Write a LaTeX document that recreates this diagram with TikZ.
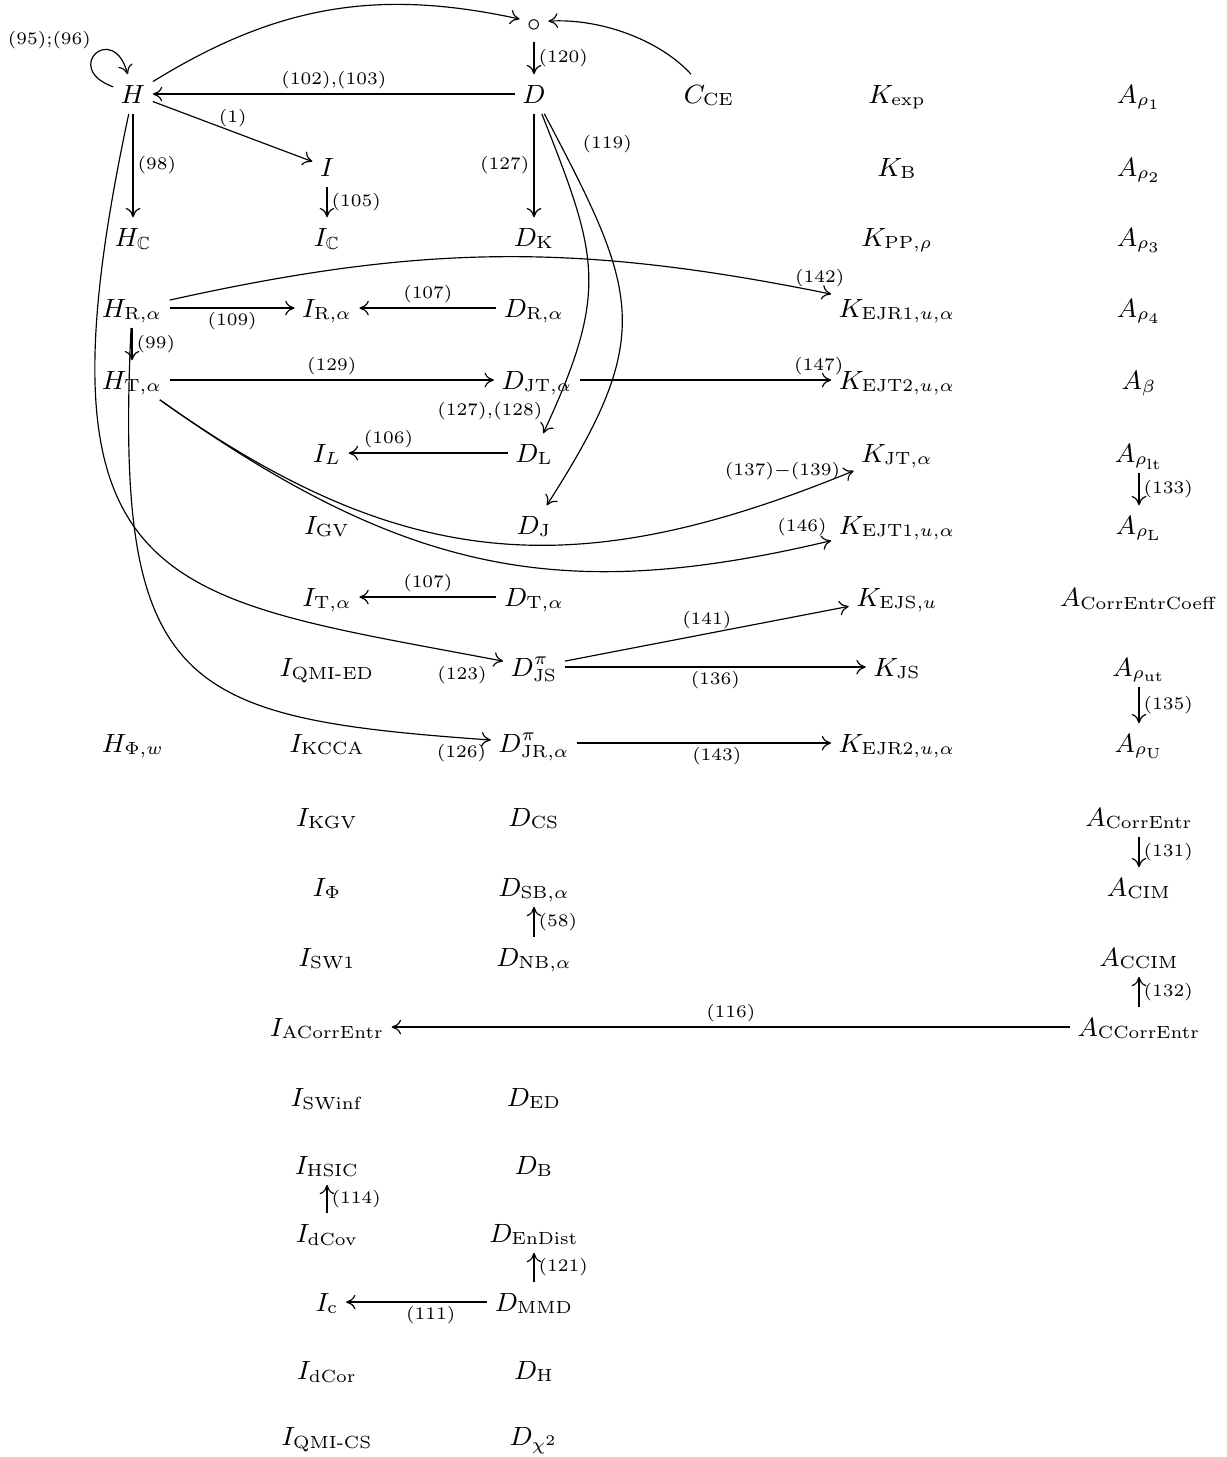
\documentclass[tikz,border=0pt]{standalone}
\usepackage{amsmath,amssymb}
\usetikzlibrary{arrows.meta}
\tikzset{
  ent/.style={anchor=base, inner sep=2.4pt, text height=7.2pt, text depth=1.1pt,
    font=\fontsize{9}{11}\selectfont},
  lbl/.style={font=\fontsize{6.3}{7.5}\selectfont, inner sep=1.4pt},
}
\begin{document}
\begin{tikzpicture}[x=0.012cm, y=0.012cm, >={Computer Modern Rightarrow[length=3.2pt,width=5pt]}]
    \useasboundingbox (0,0) rectangle (1226,-1457);

    % Top
    \node[ent] (circ) at (534,-31) {$\circ$};

    % Rows 1--5
    \node[ent] (H) at (133,-103) {$H$};
    \node[ent] (D) at (534,-103) {$D$};
    \node[ent] (Cce) at (709,-103) {$C_{\mathrm{CE}}$};
    \node[ent] (Kexp) at (897,-103) {$K_{\mathrm{exp}}$};
    \node[ent] (Ar1) at (1139,-103) {$A_{\rho_1}$};
    \node[ent] (I) at (327,-176) {$I$};
    \node[ent] (KB) at (897,-176) {$K_{\mathrm{B}}$};
    \node[ent] (Ar2) at (1139,-176) {$A_{\rho_2}$};
    \node[ent] (HC) at (133,-246) {$H_{\mathbb{C}}$};
    \node[ent] (IC) at (327,-246) {$I_{\mathbb{C}}$};
    \node[ent] (DK) at (534,-246) {$D_{\mathrm{K}}$};
    \node[ent] (KPP) at (897,-246) {$K_{\mathrm{PP},\rho}$};
    \node[ent] (Ar3) at (1139,-246) {$A_{\rho_3}$};
    \node[ent] (HR) at (132,-317) {$H_{\mathrm{R},\alpha}$};
    \node[ent] (IR) at (327,-317) {$I_{\mathrm{R},\alpha}$};
    \node[ent] (DR) at (534,-317) {$D_{\mathrm{R},\alpha}$};
    \node[ent] (KEJRa) at (897,-317) {$K_{\mathrm{EJR1},u,\alpha}$};
    \node[ent] (Ar4) at (1139,-317) {$A_{\rho_4}$};
    \node[ent] (HT) at (132,-389) {$H_{\mathrm{T},\alpha}$};
    \node[ent] (DJT) at (537,-389) {$D_{\mathrm{JT},\alpha}$};
    \node[ent] (KEJTb) at (897,-389) {$K_{\mathrm{EJT2},u,\alpha}$};
    \node[ent] (Abeta) at (1139,-389) {$A_{\beta}$};

    % Rows 6--10
    \node[ent] (IL) at (327,-462) {$I_{L}$};
    \node[ent] (DL) at (534,-462) {$D_{\mathrm{L}}$};
    \node[ent] (KJT) at (897,-462) {$K_{\mathrm{JT},\alpha}$};
    \node[ent] (Arlt) at (1139,-462) {$A_{\rho_{\mathrm{lt}}}$};
    \node[ent] (IGV) at (327,-534) {$I_{\mathrm{GV}}$};
    \node[ent] (DJ) at (534,-534) {$D_{\mathrm{J}}$};
    \node[ent] (KEJTa) at (897,-534) {$K_{\mathrm{EJT1},u,\alpha}$};
    \node[ent] (ArL) at (1139,-534) {$A_{\rho_{\mathrm{L}}}$};
    \node[ent] (IT) at (327,-606) {$I_{\mathrm{T},\alpha}$};
    \node[ent] (DT) at (534,-606) {$D_{\mathrm{T},\alpha}$};
    \node[ent] (KEJS) at (897,-606) {$K_{\mathrm{EJS},u}$};
    \node[ent] (Acec) at (1139,-606) {$A_{\mathrm{CorrEntrCoeff}}$};
    \node[ent] (IQED) at (327,-676) {$I_{\text{QMI-ED}}$};
    \node[ent] (DJS) at (534,-676) {$D^{\pi}_{\mathrm{JS}}$};
    \node[ent] (KJS) at (897,-676) {$K_{\mathrm{JS}}$};
    \node[ent] (Arut) at (1139,-676) {$A_{\rho_{\mathrm{ut}}}$};
    \node[ent] (HPhi) at (133,-752) {$H_{\Phi,w}$};
    \node[ent] (IKCCA) at (327,-752) {$I_{\mathrm{KCCA}}$};
    \node[ent] (DJR) at (534,-752) {$D^{\pi}_{\mathrm{JR},\alpha}$};
    \node[ent] (KEJRb) at (897,-752) {$K_{\mathrm{EJR2},u,\alpha}$};
    \node[ent] (ArU) at (1139,-752) {$A_{\rho_{\mathrm{U}}}$};

    % Rows 11--20
    \node[ent] (IKGV) at (327,-826) {$I_{\mathrm{KGV}}$};
    \node[ent] (DCS) at (534,-826) {$D_{\mathrm{CS}}$};
    \node[ent] (Ace) at (1139,-826) {$A_{\mathrm{CorrEntr}}$};
    \node[ent] (IPhi) at (327,-896) {$I_{\Phi}$};
    \node[ent] (DSB) at (534,-896) {$D_{\mathrm{SB},\alpha}$};
    \node[ent] (ACIM) at (1139,-896) {$A_{\mathrm{CIM}}$};
    \node[ent] (ISWa) at (327,-966) {$I_{\mathrm{SW1}}$};
    \node[ent] (DNB) at (534,-966) {$D_{\mathrm{NB},\alpha}$};
    \node[ent] (ACCIM) at (1139,-966) {$A_{\mathrm{CCIM}}$};
    \node[ent] (IACE) at (327,-1036) {$I_{\mathrm{ACorrEntr}}$};
    \node[ent] (ACCE) at (1139,-1036) {$A_{\mathrm{CCorrEntr}}$};
    \node[ent] (ISWinf) at (327,-1106) {$I_{\mathrm{SWinf}}$};
    \node[ent] (DED) at (534,-1106) {$D_{\mathrm{ED}}$};
    \node[ent] (IHSIC) at (327,-1174) {$I_{\mathrm{HSIC}}$};
    \node[ent] (DB) at (534,-1174) {$D_{\mathrm{B}}$};
    \node[ent] (IdCov) at (327,-1242) {$I_{\mathrm{dCov}}$};
    \node[ent] (DEn) at (534,-1242) {$D_{\mathrm{EnDist}}$};
    \node[ent] (Ic) at (327,-1311) {$I_{\mathrm{c}}$};
    \node[ent] (DMMD) at (534,-1311) {$D_{\mathrm{MMD}}$};
    \node[ent] (IdCor) at (327,-1379) {$I_{\mathrm{dCor}}$};
    \node[ent] (DH) at (534,-1379) {$D_{\mathrm{H}}$};
    \node[ent] (IQCS) at (327,-1445) {$I_{\text{QMI-CS}}$};
    \node[ent] (Dchi) at (534,-1445) {$D_{\chi^2}$};

    % Arrows around H and D
    \draw[->] (H) to[out=160, in=105, min distance=0.66cm] node[lbl, above left] {$(95){;}(96)$} (H);
    \draw[->] (H) to[bend left=22] (circ);
    \draw[->] (Cce) .. controls (660,-40) and (600,-18) .. (circ);
    \draw[->] (circ) -- (D) node[lbl, midway, right] {$(120)$};
    \draw[->] (D) -- (H) node[lbl, midway, above] {$(102){,}(103)$};
    \draw[->] (H) -- (I) node[lbl, midway, above] {$(1)$};
    \draw[->] (H) -- (HC) node[lbl, midway, right] {$(98)$};
    \draw[->] (I) -- (IC) node[lbl, midway, right] {$(105)$};
    \draw[->] (D) -- (DK) node[lbl, midway, left] {$(127)$};
    \draw[->] (D) .. controls (598,-256) and (610,-290) .. (DL) node[lbl, pos=0.98, above left] {$(127){,}(128)$};
    \draw[->] (D) .. controls (638,-292) and (657,-334) .. (DJ) node[lbl, pos=0.06, right=6pt] {$(119)$};
    \draw[->] (H) .. controls (25,-599) and (162,-596) .. (DJS) node[lbl, pos=1, below left, xshift=-4pt] {$(123)$};

    % Renyi and Tsallis
    \draw[->] (HR) -- (IR) node[lbl, midway, below] {$(109)$};
    \draw[->] (DR) -- (IR) node[lbl, midway, above] {$(107)$};
    \draw[->] (HR) to[bend left=12] node[lbl, pos=0.985, above] {$(142)$} (KEJRa);
    \draw[->] (HR) -- (HT) node[lbl, midway, right] {$(99)$};
    \draw[->] (HR) .. controls (114,-690) and (180,-718) .. (DJR) node[lbl, pos=1, below left] {$(126)$};
    \draw[->] (HT) -- (DJT) node[lbl, midway, above] {$(129)$};
    \draw[->] (DJT) -- (KEJTb) node[lbl, pos=0.95, above] {$(147)$};
    \draw[->] (HT) .. controls (405,-574) and (578,-584) .. (KJT) node[lbl, pos=1, left, xshift=-3pt] {$(137){-}(139)$};
    \draw[->] (HT) .. controls (405,-574) and (560,-605) .. (KEJTa) node[lbl, pos=1, above left] {$(146)$};
    \draw[->] (DL) -- (IL) node[lbl, pos=0.75, above] {$(106)$};
    \draw[->] (DT) -- (IT) node[lbl, midway, above] {$(107)$};

    % Jensen kernels
    \draw[->] (DJS) -- (KEJS) node[lbl, midway, above] {$(141)$};
    \draw[->] (DJS) -- (KJS) node[lbl, midway, below] {$(136)$};
    \draw[->] (DJR) -- (KEJRb) node[lbl, pos=0.55, below] {$(143)$};

    % Association column
    \draw[->] (Arlt) -- (ArL) node[lbl, midway, right] {$(133)$};
    \draw[->] (Arut) -- (ArU) node[lbl, midway, right] {$(135)$};
    \draw[->] (Ace) -- (ACIM) node[lbl, midway, right] {$(131)$};
    \draw[->] (ACCE) -- (ACCIM) node[lbl, midway, right] {$(132)$};
    \draw[->] (ACCE) -- (IACE) node[lbl, midway, above] {$(116)$};

    % Lower part
    \draw[->] (DNB) -- (DSB) node[lbl, midway, right] {$(58)$};
    \draw[->] (IdCov) -- (IHSIC) node[lbl, midway, right] {$(114)$};
    \draw[->] (DMMD) -- (DEn) node[lbl, midway, right] {$(121)$};
    \draw[->] (DMMD) -- (Ic) node[lbl, pos=0.4, below] {$(111)$};
\end{tikzpicture}
\end{document}
